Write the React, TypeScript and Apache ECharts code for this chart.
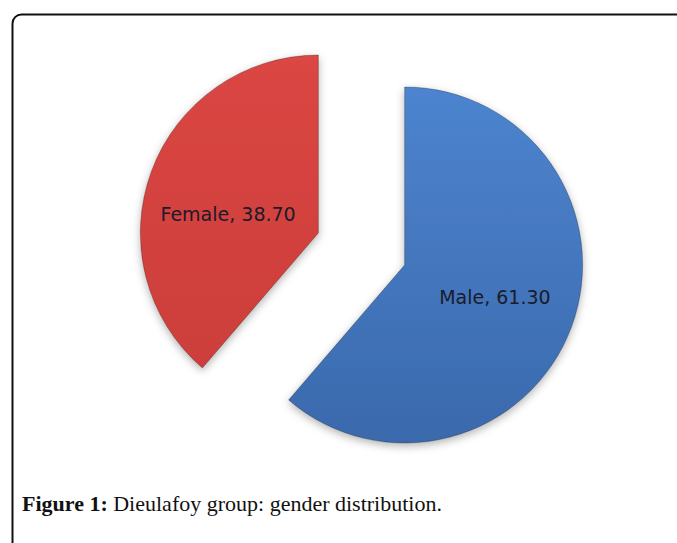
import React, { useEffect, useRef } from "react";
import * as echarts from "echarts";

const categories = ["Male", "Female"];
const values = [61.3, 38.7];
const sliceColors = [
  ["#4D84CF", "#3A69AC"],
  ["#DB4643", "#CC3E3A"],
];
const captionBold = "Figure 1:";
const captionText = " Dieulafoy group: gender distribution.";

export default function App() {
  const ref = useRef<HTMLDivElement>(null);
  useEffect(() => {
    if (!ref.current) return;
    const chart = echarts.init(ref.current, undefined, { renderer: "svg" });
    const labelPadding = [
      [0, 0, 0, 8],
      [0, 8, 0, 0],
    ];
    const labelDrop = [false, true];
    chart.setOption({
      animation: false,
      backgroundColor: "#ffffff",
      graphic: [
        {
          type: "rect",
          shape: { x: 12.5, y: 14.5, width: 720, height: 600, r: [9, 0, 0, 0] },
          style: { fill: "none", stroke: "#111", lineWidth: 2 },
          silent: true,
        },
        {
          type: "text",
          left: 22,
          top: 492,
          style: {
            text: "{b|" + captionBold + "}{n|" + captionText + "}",
            rich: {
              b: { fontFamily: "Liberation Serif", fontWeight: "bold", fontSize: 22, fill: "#111" },
              n: { fontFamily: "Liberation Serif", fontSize: 22, fill: "#111" },
            },
          },
        },
      ],
      series: [
        {
          type: "pie",
          center: [361.5, 249],
          radius: [0, 178],
          startAngle: 90,
          clockwise: true,
          selectedMode: "multiple",
          selectedOffset: 46,
          silent: true,
          label: {
            show: true,
            position: "inside",
            fontFamily: "DejaVu Sans",
            fontSize: 19,
            lineHeight: 26,
            color: "#1b1b2b",
          },
          labelLine: { show: false },
          data: categories.map((c, i) => ({
            name: c,
            value: values[i],
            selected: true,
            label: {
              padding: labelPadding[i],
              formatter: (p: any) =>
                (labelDrop[i] ? "\n" : "") + p.name + ", " + p.value.toFixed(2),
            },
            itemStyle: {
              color: new echarts.graphic.LinearGradient(0, 0, 0, 1, [
                { offset: 0, color: sliceColors[i][0] },
                { offset: 1, color: sliceColors[i][1] },
              ]),
              borderColor: "rgba(0,0,0,0.25)",
              borderWidth: 1,
              shadowBlur: 8,
              shadowColor: "rgba(0,0,0,0.3)",
              shadowOffsetY: 3,
            },
          })),
        },
      ],
    });
    return () => chart.dispose();
  }, []);
  return (
    <div
      ref={ref}
      style={{ position: "fixed", left: 0, top: 0, width: 677, height: 543 }}
    />
  );
}
